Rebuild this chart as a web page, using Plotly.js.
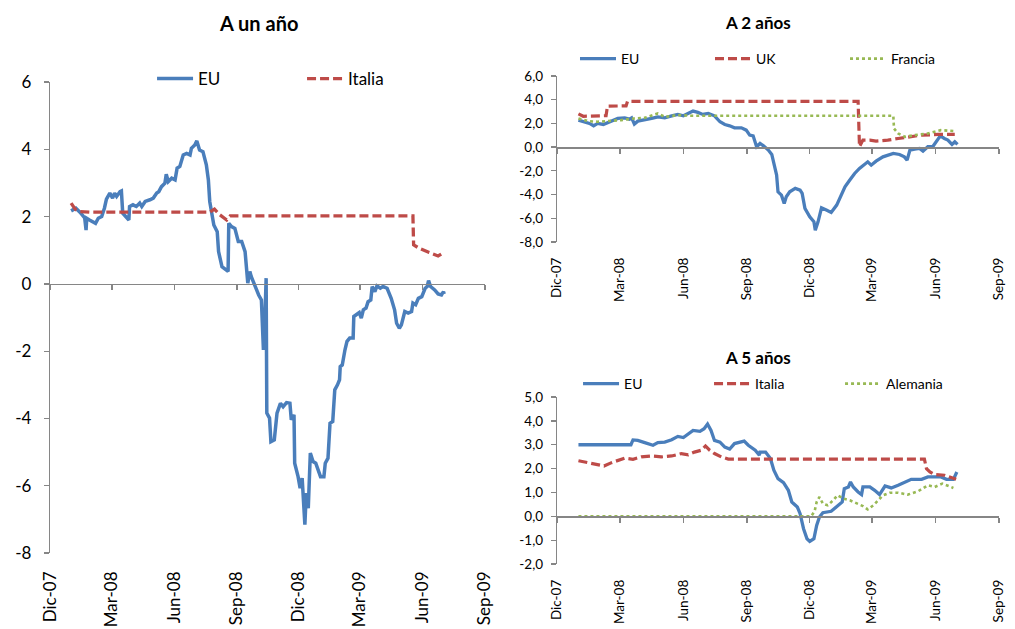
<!DOCTYPE html>
<html>
<head>
<meta charset="utf-8">
<script src="https://cdn.plot.ly/plotly-3.0.1.min.js"></script>
<style>html,body{margin:0;padding:0;background:#fff}#chart{width:1015px;height:629px}</style>
</head>
<body>
<div id="chart"></div>
<script>
// ---------- Data ----------
var xTickVals = ['2007-12-01','2008-03-01','2008-06-01','2008-09-01','2008-12-01','2009-03-01','2009-06-01','2009-09-01'];
var xTickText = ['Dic-07','Mar-08','Jun-08','Sep-08','Dic-08','Mar-09','Jun-09','Sep-09'];

var y1TickVals = [-8,-6,-4,-2,0,2,4,6];
var y1TickText = ['-8','-6','-4','-2','0','2','4','6'];
var y2TickVals = [-8,-6,-4,-2,0,2,4,6];
var y2TickText = ['-8,0','-6,0','-4,0','-2,0','0,0','2,0','4,0','6,0'];
var y3TickVals = [-2,-1,0,1,2,3,4,5];
var y3TickText = ['-2,0','-1,0','0,0','1,0','2,0','3,0','4,0','5,0'];

// A un año
var d1_eu = ['2008-01-01','2008-01-08','2008-01-14','2008-01-17','2008-01-21','2008-01-23','2008-01-24','2008-01-28','2008-02-01','2008-02-06','2008-02-10','2008-02-15','2008-02-19','2008-02-22','2008-02-27','2008-03-02','2008-03-05','2008-03-08','2008-03-13','2008-03-15','2008-03-17','2008-03-22','2008-03-26','2008-03-27','2008-04-01','2008-04-06','2008-04-11','2008-04-14','2008-04-19','2008-04-26','2008-05-01','2008-05-06','2008-05-09','2008-05-13','2008-05-18','2008-05-20','2008-05-23','2008-05-28','2008-06-02','2008-06-05','2008-06-09','2008-06-14','2008-06-19','2008-06-24','2008-06-26','2008-07-01','2008-07-04','2008-07-08','2008-07-13','2008-07-18','2008-07-21','2008-07-23','2008-07-26','2008-07-29','2008-08-03','2008-08-05','2008-08-10','2008-08-15','2008-08-19','2008-08-20','2008-08-24','2008-08-29','2008-09-03','2008-09-08','2008-09-13','2008-09-17','2008-09-20','2008-09-22','2008-09-25','2008-09-29','2008-10-03','2008-10-07','2008-10-08','2008-10-10','2008-10-12','2008-10-14','2008-10-15','2008-10-19','2008-10-21','2008-10-26','2008-10-30','2008-11-04','2008-11-08','2008-11-13','2008-11-18','2008-11-20','2008-11-24','2008-11-25','2008-11-30','2008-12-03','2008-12-06','2008-12-08','2008-12-10','2008-12-12','2008-12-15','2008-12-18','2008-12-22','2008-12-26','2008-12-30','2009-01-02','2009-01-07','2009-01-09','2009-01-13','2009-01-16','2009-01-20','2009-01-23','2009-01-27','2009-01-30','2009-01-31','2009-02-03','2009-02-07','2009-02-10','2009-02-14','2009-02-19','2009-02-20','2009-02-24','2009-02-28','2009-03-03','2009-03-06','2009-03-10','2009-03-13','2009-03-17','2009-03-19','2009-03-23','2009-03-26','2009-03-31','2009-04-04','2009-04-10','2009-04-16','2009-04-21','2009-04-24','2009-04-28','2009-05-01','2009-05-06','2009-05-11','2009-05-16','2009-05-18','2009-05-22','2009-05-26','2009-05-31','2009-06-02','2009-06-05','2009-06-08','2009-06-10','2009-06-13','2009-06-19','2009-06-24','2009-06-29','2009-07-02','2009-07-03'];
var v1_eu = [2.17,2.25,2.13,2.05,1.96,1.60,1.95,1.90,1.85,1.80,1.95,2.00,2.25,2.52,2.70,2.55,2.70,2.60,2.74,2.76,2.10,2.00,1.90,2.30,2.35,2.30,2.40,2.30,2.45,2.50,2.55,2.70,2.74,2.89,2.99,3.26,3.04,3.14,3.09,3.44,3.49,3.83,3.88,3.83,4.03,4.13,4.25,3.98,3.93,3.54,3.09,2.45,2.05,1.75,1.55,0.96,0.51,0.42,0.37,1.80,1.70,1.65,1.26,1.26,0.96,0.02,0.37,0.22,0.07,-0.18,-0.33,-0.48,-1.27,-1.96,-1.16,0.17,-3.84,-3.99,-4.69,-4.64,-3.84,-3.55,-3.65,-3.53,-3.55,-4.04,-3.89,-5.33,-5.73,-6.07,-5.77,-6.52,-7.16,-6.22,-6.67,-5.03,-5.28,-5.33,-5.53,-5.73,-5.73,-5.33,-5.18,-4.14,-4.09,-3.15,-3.00,-2.85,-2.46,-2.41,-1.96,-1.71,-1.61,-1.61,-0.97,-0.92,-0.85,-1.02,-0.77,-0.72,-0.53,-0.48,-0.08,-0.23,-0.06,-0.13,-0.08,-0.13,-0.43,-0.77,-1.17,-1.32,-1.22,-0.82,-0.87,-0.82,-0.57,-0.62,-0.43,-0.38,-0.28,-0.13,-0.08,0.10,-0.08,-0.18,-0.30,-0.33,-0.23,-0.30];

var d1_it = ['2008-01-01','2008-01-07','2008-01-14','2008-01-28','2008-07-23','2008-07-30','2008-08-07','2008-08-17','2008-08-22','2009-05-18','2009-05-19','2009-05-27','2009-06-11','2009-06-24','2009-06-29'];
var v1_it = [2.40,2.22,2.15,2.13,2.13,2.22,2.05,1.90,2.02,2.02,1.16,1.06,0.93,0.83,0.89];

// A 2 años
var d2_eu = ['2008-01-01','2008-01-10','2008-01-17','2008-01-23','2008-01-29','2008-02-06','2008-02-13','2008-02-20','2008-02-27','2008-03-08','2008-03-15','2008-03-18','2008-03-22','2008-03-27','2008-04-06','2008-04-16','2008-04-25','2008-05-05','2008-05-15','2008-05-24','2008-06-01','2008-06-08','2008-06-15','2008-06-22','2008-06-29','2008-07-07','2008-07-16','2008-07-24','2008-07-31','2008-08-07','2008-08-14','2008-08-24','2008-08-31','2008-09-05','2008-09-10','2008-09-15','2008-09-20','2008-09-25','2008-10-02','2008-10-07','2008-10-11','2008-10-14','2008-10-16','2008-10-21','2008-10-25','2008-10-28','2008-11-02','2008-11-10','2008-11-17','2008-11-20','2008-11-24','2008-12-01','2008-12-07','2008-12-09','2008-12-13','2008-12-18','2008-12-25','2009-01-01','2009-01-09','2009-01-15','2009-01-21','2009-01-28','2009-02-04','2009-02-11','2009-02-19','2009-02-23','2009-02-28','2009-03-07','2009-03-17','2009-03-24','2009-04-01','2009-04-10','2009-04-17','2009-04-21','2009-04-25','2009-05-02','2009-05-09','2009-05-14','2009-05-21','2009-05-28','2009-06-02','2009-06-08','2009-06-14','2009-06-19','2009-06-25','2009-06-29','2009-07-03'];
var v2_eu = [2.28,2.14,2.00,1.80,2.00,1.91,2.08,2.28,2.42,2.47,2.36,2.47,1.94,2.19,2.28,2.42,2.55,2.47,2.64,2.76,2.64,2.84,3.04,2.93,2.76,2.84,2.64,2.14,1.91,1.80,1.63,1.63,1.43,1.01,0.95,0.03,0.31,0.11,-0.25,-0.62,-1.52,-2.36,-3.77,-4.05,-4.75,-4.19,-3.77,-3.48,-3.63,-3.90,-5.17,-5.87,-6.30,-7.00,-6.30,-5.12,-5.31,-5.51,-4.89,-4.05,-3.35,-2.78,-2.22,-1.80,-1.37,-1.24,-1.52,-1.18,-0.82,-0.67,-0.53,-0.62,-0.82,-1.10,-0.25,-0.17,-0.11,-0.34,0.03,0.03,0.45,0.95,0.73,0.59,0.23,0.45,0.23];

var d2_uk = ['2008-01-01','2008-01-08','2008-02-10','2008-02-12','2008-03-10','2008-03-12','2009-02-09','2009-02-11','2009-02-16','2009-02-26','2009-03-07','2009-03-24','2009-04-08','2009-04-22','2009-05-12','2009-06-05','2009-06-29'];
var v2_uk = [2.80,2.60,2.65,3.45,3.48,3.85,3.85,0.03,0.59,0.59,0.51,0.59,0.73,0.87,1.01,1.07,1.07];

var d2_fr = ['2008-01-01','2008-01-15','2008-01-29','2008-02-13','2008-03-03','2008-03-22','2008-04-06','2008-04-25','2008-05-05','2008-05-24','2008-06-12','2009-04-01','2009-04-02','2009-04-08','2009-04-18','2009-05-02','2009-05-21','2009-06-09','2009-06-29'];
var v2_fr = [2.42,2.19,2.14,2.19,2.28,2.42,2.47,2.84,2.55,2.70,2.65,2.65,1.57,1.15,0.87,1.01,1.15,1.43,1.35];

// A 5 años
var d5_eu = ['2008-01-01','2008-03-17','2008-03-20','2008-03-27','2008-04-06','2008-04-18','2008-04-25','2008-05-05','2008-05-15','2008-05-24','2008-06-01','2008-06-05','2008-06-15','2008-06-25','2008-07-01','2008-07-06','2008-07-11','2008-07-16','2008-07-24','2008-07-31','2008-08-07','2008-08-14','2008-08-21','2008-08-28','2008-09-03','2008-09-13','2008-09-19','2008-09-20','2008-09-28','2008-10-05','2008-10-10','2008-10-16','2008-10-24','2008-10-31','2008-11-05','2008-11-13','2008-11-17','2008-11-22','2008-11-27','2008-12-01','2008-12-07','2008-12-11','2008-12-15','2008-12-20','2009-01-01','2009-01-11','2009-01-17','2009-01-20','2009-01-26','2009-01-29','2009-02-02','2009-02-09','2009-02-14','2009-02-16','2009-02-26','2009-03-05','2009-03-12','2009-03-20','2009-03-29','2009-04-08','2009-04-18','2009-04-27','2009-05-12','2009-05-21','2009-06-09','2009-06-17','2009-06-27','2009-07-02'];
var v5_eu = [3.00,3.00,3.20,3.18,3.09,2.98,3.09,3.11,3.21,3.35,3.30,3.39,3.60,3.56,3.67,3.87,3.60,3.18,3.11,2.90,2.82,3.05,3.11,3.15,2.98,2.77,2.56,2.69,2.69,2.42,1.93,1.58,1.41,1.09,0.60,0.39,0.11,-0.52,-0.94,-1.05,-0.94,-0.38,-0.03,0.15,0.21,0.46,0.60,1.16,1.23,1.44,1.23,1.02,0.91,1.23,1.23,1.09,0.91,1.27,1.19,1.30,1.44,1.55,1.55,1.65,1.65,1.55,1.55,1.86];

var d5_it = ['2008-01-01','2008-01-10','2008-01-24','2008-02-07','2008-02-18','2008-03-08','2008-03-20','2008-04-01','2008-04-16','2008-04-30','2008-05-15','2008-05-29','2008-06-08','2008-06-17','2008-06-27','2008-07-03','2008-07-09','2008-07-16','2008-07-26','2008-08-05','2009-05-16','2009-05-19','2009-05-24','2009-05-31','2009-06-14','2009-06-24','2009-07-01'];
var v5_it = [2.33,2.28,2.21,2.11,2.25,2.44,2.39,2.49,2.53,2.49,2.53,2.63,2.58,2.69,2.77,2.95,2.77,2.63,2.49,2.40,2.40,2.00,1.86,1.75,1.72,1.61,1.55];

var d5_de = ['2008-01-01','2008-12-03','2008-12-08','2008-12-11','2008-12-15','2008-12-20','2008-12-27','2009-01-04','2009-01-10','2009-01-19','2009-01-28','2009-02-07','2009-02-16','2009-02-23','2009-03-03','2009-03-10','2009-03-17','2009-03-27','2009-04-08','2009-04-22','2009-05-07','2009-05-21','2009-05-31','2009-06-11','2009-06-19','2009-06-27'];
var v5_de = [0.00,0.00,0.21,0.60,0.81,0.53,0.46,0.67,0.88,0.74,0.67,0.53,0.43,0.29,0.46,0.67,0.88,0.99,0.99,0.91,1.05,1.30,1.23,1.37,1.27,1.19];

// ---------- Styles ----------
var FONT = 'Lato, "Open Sans", "Liberation Sans", sans-serif';
var BLUE = '#4A7EBB', RED = '#BE4B48', GREEN = '#98B954', AXIS = '#868686';
var xRange = ['2007-12-01','2009-09-01'];

var dom = {
  x1: [0.0493, 0.4778], y1: [0.1208, 0.8696], r1: [-8, 6],
  x2: [0.5488, 0.9842], y2: [0.6153, 0.8792], r2: [-8, 6],
  x3: [0.5488, 0.9842], y3: [0.1033, 0.3688], r3: [-2, 5]
};
function zeroPos(d, r) { return d[0] + (0 - r[0]) / (r[1] - r[0]) * (d[1] - d[0]); }

function euLine(w) { return {color: BLUE, width: w}; }
function redLine(w, dash) { return {color: RED, width: w, dash: dash}; }
function greenLine(w) { return {color: GREEN, width: w, dash: '3px,3px'}; }

var traces = [
  {x: d1_eu, y: v1_eu, name: 'EU', mode: 'lines', line: euLine(3.5), xaxis: 'x', yaxis: 'y', legend: 'legend'},
  {x: d1_it, y: v1_it, name: 'Italia', mode: 'lines', line: redLine(3.3, '9px,4px'), xaxis: 'x', yaxis: 'y', legend: 'legend'},
  {x: d2_eu, y: v2_eu, name: 'EU', mode: 'lines', line: euLine(3.3), xaxis: 'x2', yaxis: 'y2', legend: 'legend2'},
  {x: d2_uk, y: v2_uk, name: 'UK', mode: 'lines', line: redLine(3.2, '9px,4px'), xaxis: 'x2', yaxis: 'y2', legend: 'legend2'},
  {x: d2_fr, y: v2_fr, name: 'Francia', mode: 'lines', line: greenLine(2.6), xaxis: 'x2', yaxis: 'y2', legend: 'legend2'},
  {x: d5_eu, y: v5_eu, name: 'EU', mode: 'lines', line: euLine(3.3), xaxis: 'x3', yaxis: 'y3', legend: 'legend3'},
  {x: d5_it, y: v5_it, name: 'Italia', mode: 'lines', line: redLine(3.2, '9px,4px'), xaxis: 'x3', yaxis: 'y3', legend: 'legend3'},
  {x: d5_de, y: v5_de, name: 'Alemania', mode: 'lines', line: greenLine(2.6), xaxis: 'x3', yaxis: 'y3', legend: 'legend3'},
  // empty carriers for the zero-line axes
  {x: [], y: [], xaxis: 'x4', yaxis: 'y', showlegend: false, hoverinfo: 'skip'},
  {x: [], y: [], xaxis: 'x5', yaxis: 'y2', showlegend: false, hoverinfo: 'skip'},
  {x: [], y: [], xaxis: 'x6', yaxis: 'y3', showlegend: false, hoverinfo: 'skip'}
];

function labelAxis(domain, anchor, size, standoff) {
  return {domain: domain, anchor: anchor, type: 'date', range: xRange,
    tickmode: 'array', tickvals: xTickVals, ticktext: xTickText, tickangle: -90,
    showline: false, ticks: '', showgrid: false, zeroline: false,
    tickfont: {family: FONT, size: size, color: '#000'}, ticklabelstandoff: standoff, fixedrange: true};
}
function zeroAxis(over, d, r) {
  return {overlaying: over, anchor: 'free', position: zeroPos(d, r), type: 'date', range: xRange,
    tickmode: 'array', tickvals: xTickVals, showticklabels: false,
    ticks: 'outside', ticklen: 5, tickwidth: 1.3, tickcolor: AXIS,
    showline: true, linecolor: AXIS, linewidth: 1.5, showgrid: false, zeroline: false, fixedrange: true};
}
function valueAxis(domain, anchor, r, vals, text, size, standoff) {
  return {domain: domain, anchor: anchor, range: r, tickmode: 'array', tickvals: vals, ticktext: text,
    showline: true, linecolor: AXIS, linewidth: 1.3, ticks: 'outside', ticklen: 5, tickwidth: 1.3, tickcolor: AXIS,
    showgrid: false, zeroline: false, tickfont: {family: FONT, size: size, color: '#000'},
    ticklabelstandoff: standoff, fixedrange: true};
}
function legendBox(x, y, size, ew) {
  return {orientation: 'h', x: x, y: y, xanchor: 'left', yanchor: 'middle',
    font: {family: FONT, size: size, color: '#000'}, bgcolor: 'rgba(0,0,0,0)',
    itemwidth: 36, entrywidth: ew, entrywidthmode: 'pixels', itemclick: false, itemdoubleclick: false};
}

var layout = {
  width: 1015, height: 629,
  margin: {l: 0, r: 0, t: 0, b: 0},
  paper_bgcolor: '#fff', plot_bgcolor: '#fff',
  font: {family: FONT, color: '#000'},
  hovermode: false,
  xaxis: labelAxis(dom.x1, 'y', 17, 14),
  xaxis2: labelAxis(dom.x2, 'y2', 13.5, 12),
  xaxis3: labelAxis(dom.x3, 'y3', 13.5, 12),
  xaxis4: zeroAxis('x', dom.y1, dom.r1),
  xaxis5: zeroAxis('x2', dom.y2, dom.r2),
  xaxis6: zeroAxis('x3', dom.y3, dom.r3),
  yaxis: valueAxis(dom.y1, 'x', dom.r1, y1TickVals, y1TickText, 17, 9),
  yaxis2: valueAxis(dom.y2, 'x2', dom.r2, y2TickVals, y2TickText, 13.5, 5),
  yaxis3: valueAxis(dom.y3, 'x3', dom.r3, y3TickVals, y3TickText, 13.5, 5),
  legend: legendBox(0.1498, 0.8744, 17, 99),
  legend2: legendBox(0.5665, 0.9062, 14, 84),
  legend3: legendBox(0.5695, 0.3895, 14, 80),
  annotations: [
    {text: 'A un año', x: 0.2542, y: 0.9634, xref: 'paper', yref: 'paper', showarrow: false, xanchor: 'center', yanchor: 'middle', font: {family: FONT, size: 20, weight: 'bold', color: '#000'}},
    {text: 'A 2 años', x: 0.7468, y: 0.965, xref: 'paper', yref: 'paper', showarrow: false, xanchor: 'center', yanchor: 'middle', font: {family: FONT, size: 17, weight: 'bold', color: '#000'}},
    {text: 'A 5 años', x: 0.7468, y: 0.4324, xref: 'paper', yref: 'paper', showarrow: false, xanchor: 'center', yanchor: 'middle', font: {family: FONT, size: 17, weight: 'bold', color: '#000'}}
  ]
};

Plotly.newPlot('chart', traces, layout, {displayModeBar: false, staticPlot: true});
</script>
</body>
</html>
